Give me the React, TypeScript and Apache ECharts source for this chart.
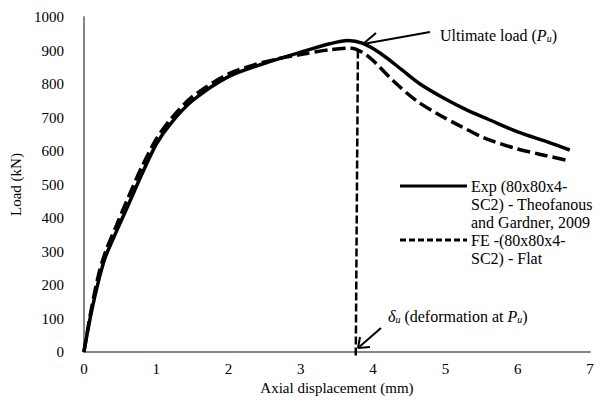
import React, { useEffect, useRef } from "react";
import * as echarts from "echarts";

const expX = [0, 0.1, 0.2, 0.3, 0.45, 0.6, 0.8, 1.0, 1.2, 1.5, 2.0, 2.5, 3.0, 3.4, 3.65, 3.85, 4.1, 4.4, 4.65, 5.0, 5.3, 5.6, 6.0, 6.4, 6.72];
const expY = [0, 115, 210, 285, 360, 432, 530, 620, 682, 750, 822, 862, 895, 920, 930, 922, 892, 842, 800, 755, 722, 694, 657, 628, 603];
const feX = [0, 0.1, 0.2, 0.3, 0.45, 0.6, 0.8, 1.0, 1.2, 1.5, 2.0, 2.5, 3.0, 3.4, 3.7, 3.85, 4.0, 4.3, 4.6, 4.9, 5.2, 5.55, 6.0, 6.4, 6.72];
const feY = [0, 125, 228, 300, 378, 455, 552, 635, 695, 762, 830, 866, 888, 902, 907, 895, 870, 805, 750, 710, 675, 638, 606, 586, 570];
const deltaX = [3.79, 3.76];
const deltaY = [900, -18];

const expName = ["Exp (80x80x4-", "SC2) - Theofanous", "and Gardner, 2009"];
const feName = ["FE -(80x80x4-", "SC2) - Flat"];

const FONT = "'Liberation Serif', 'Times New Roman', serif";

export default function App() {
  const ref = useRef<HTMLDivElement>(null);
  useEffect(() => {
    if (!ref.current) return;
    const chart = echarts.init(ref.current, null, { renderer: "svg" });
    const pair = (xs: number[], ys: number[]) => xs.map((x, i) => [x, ys[i]]);
    const txt = { fontFamily: FONT, fontSize: 16, fill: "#000" };
    const legendX = 400;
    const lineH = 18;
    const expTop = 186;
    const feTop = expTop + lineH * 3;
    const rich = {
      a: { fontFamily: FONT, fontSize: 16, fill: "#000", lineHeight: 16 },
      p: { fontFamily: FONT, fontSize: 16, fontStyle: "italic", fill: "#000", lineHeight: 16 },
      s: { fontFamily: FONT, fontSize: 10, fontStyle: "italic", fill: "#000", lineHeight: 16, padding: [7, 0, 0, 0] },
    };
    const graphic: any[] = [
      { type: "text", left: 6, top: -15, style: { ...txt, text: "SHOWN IN" } },
      // legend
      { type: "line", shape: { x1: legendX, y1: expTop, x2: legendX + 67, y2: expTop }, style: { stroke: "#000", lineWidth: 3 } },
      ...expName.map((t, i) => ({ type: "text", x: 471, y: expTop + i * lineH, style: { ...txt, text: t, textVerticalAlign: "middle" } })),
      { type: "line", shape: { x1: legendX, y1: feTop, x2: legendX + 67, y2: feTop }, style: { stroke: "#000", lineWidth: 3, lineDash: [6, 3] } },
      ...feName.map((t, i) => ({ type: "text", x: 471, y: feTop + i * lineH, style: { ...txt, text: t, textVerticalAlign: "middle" } })),
      // Ultimate load annotation
      { type: "line", shape: { x1: 430, y1: 32, x2: 363, y2: 44 }, style: { stroke: "#000", lineWidth: 2 } },
      { type: "line", shape: { x1: 363, y1: 44, x2: 376, y2: 33 }, style: { stroke: "#000", lineWidth: 2 } },
      {
        type: "text", x: 440, y: 35,
        style: { text: "{a|Ultimate load (}{p|P}{s|u}{a|)}", textVerticalAlign: "middle", rich },
      },
      // delta annotation
      { type: "line", shape: { x1: 381, y1: 328, x2: 358, y2: 348 }, style: { stroke: "#000", lineWidth: 2 } },
      { type: "line", shape: { x1: 358, y1: 348, x2: 360, y2: 337 }, style: { stroke: "#000", lineWidth: 2 } },
      { type: "line", shape: { x1: 358, y1: 348, x2: 370, y2: 347 }, style: { stroke: "#000", lineWidth: 2 } },
      {
        type: "text", x: 388, y: 316,
        style: { text: "{p|δ}{s|u}{a| (deformation at }{p|P}{s|u}{a|)}", textVerticalAlign: "middle", rich },
      },
    ];
    chart.setOption({
      animation: false,
      grid: { left: 75, right: 10, top: 17, bottom: 51, containLabel: false },
      xAxis: {
        type: "value", min: 0, max: 7, interval: 1,
        name: "Axial displacement (mm)", nameLocation: "middle", nameGap: 23,
        nameTextStyle: { fontFamily: FONT, fontSize: 15, color: "#000" },
        axisLine: { show: true, onZero: false, lineStyle: { color: "#868686", width: 2 } },
        axisTick: { show: false },
        axisLabel: { fontFamily: FONT, fontSize: 15, color: "#000", margin: 9, showMaxLabel: true, showMinLabel: true },
        splitLine: { show: false },
      },
      yAxis: {
        type: "value", min: 0, max: 1000, interval: 100,
        name: "Load (kN)", nameLocation: "middle", nameGap: 38,
        nameTextStyle: { fontFamily: FONT, fontSize: 15, color: "#000" },
        axisLine: { show: true, lineStyle: { color: "#868686", width: 2 } },
        axisTick: { show: false },
        axisLabel: { fontFamily: FONT, fontSize: 15, color: "#000", margin: 20, formatter: (v: number) => String(v) },
        splitLine: { show: false },
      },
      series: [
        {
          name: "Exp", type: "line", data: pair(expX, expY), smooth: 0.3, showSymbol: false,
          lineStyle: { color: "#000", width: 3.5 },
        },
        {
          name: "FE", type: "line", data: pair(feX, feY), smooth: 0.3, showSymbol: false,
          lineStyle: { color: "#000", width: 3.5, type: [13, 5] },
        },
        {
          name: "delta", type: "line", data: pair(deltaX, deltaY), showSymbol: false, clip: false,
          lineStyle: { color: "#000", width: 2.5, type: [8, 3] },
        },
      ],
      graphic,
    });
    return () => chart.dispose();
  }, []);
  return <div ref={ref} style={{ position: "absolute", left: 0, top: 0, width: 600, height: 403 }} />;
}
